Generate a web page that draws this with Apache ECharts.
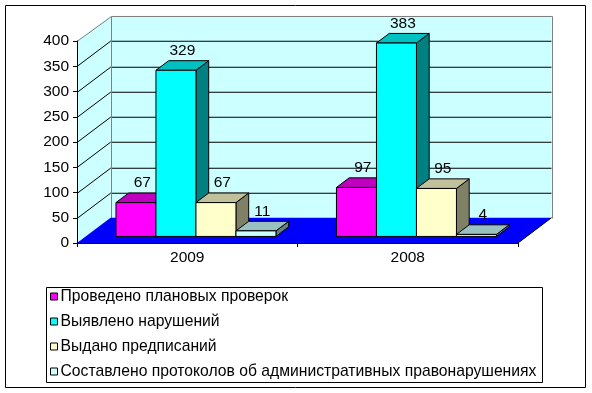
<!DOCTYPE html>
<html>
<head>
<meta charset="utf-8">
<script src="https://cdn.jsdelivr.net/npm/echarts@6/dist/echarts.min.js"></script>
<style>
html,body{margin:0;padding:0;background:#fff;}
#chart{width:592px;height:393px;}
</style>
</head>
<body>
<div id="chart"></div>
<script>
var categories = ['2009', '2008'];
var seriesNames = [
  'Проведено плановых проверок',
  'Выявлено нарушений',
  'Выдано предписаний',
  'Составлено протоколов об административных правонарушениях'
];
var planned = [67, 97];
var violations = [329, 383];
var orders = [67, 95];
var protocols = [11, 4];
var yTicks = [0, 50, 100, 150, 200, 250, 300, 350, 400];

var FONT = '"Liberation Sans", Arial, sans-serif';
var FS = 15.5;
var faceColors = [
  { front: '#FF00FF', top: '#C000C0', side: '#800080' },
  { front: '#00FFFF', top: '#00C0C0', side: '#008080' },
  { front: '#FFFFCC', top: '#C0C09A', side: '#808066' },
  { front: '#CCFFFF', top: '#99C0C0', side: '#668080' }
];
var allValues = [planned, violations, orders, protocols];

function depthVec(api) {
  var step = api.size([0, 50])[1];
  return [step * 1.327, -step];
}

function renderBackground(params, api) {
  var cs = params.coordSys;
  var D = depthVec(api);
  var x0 = cs.x, x1 = cs.x + cs.width;
  var yTop = api.coord([0, yTicks[yTicks.length - 1]])[1];
  var yBot = api.coord([0, yTicks[0]])[1];
  var children = [];
  children.push({type: 'polygon', shape: {points: [[x0, yTop], [x0 + D[0], yTop + D[1]], [x0 + D[0], yBot + D[1]], [x0, yBot]]},
    style: {fill: '#CCFFFF', stroke: null}});
  children.push({type: 'polygon', shape: {points: [[x0 + D[0], yTop + D[1]], [x1 + D[0], yTop + D[1]], [x1 + D[0], yBot + D[1]], [x0 + D[0], yBot + D[1]]]},
    style: {fill: '#CCFFFF', stroke: null}});
  for (var i = 1; i < yTicks.length - 1; i++) {
    var y = Math.round(api.coord([0, yTicks[i]])[1]) + 0.5;
    children.push({type: 'polyline', shape: {points: [[x0, y], [x0 + D[0], y + D[1]], [x1 + D[0], y + D[1]]]},
      style: {stroke: '#000', lineWidth: 1, fill: null}});
  }
  var bx = Math.round(x0 + D[0]) + 0.5, byT = Math.round(yTop + D[1]) + 0.5;
  var bxR = Math.round(x1 + D[0]) + 0.5, byB = Math.round(yBot + D[1]) + 0.5;
  children.push({type: 'polyline', shape: {points: [[x0, Math.round(yTop) + 0.5], [bx, byT], [bxR, byT], [bxR, byB]]},
    style: {stroke: '#808080', lineWidth: 1, fill: null}});
  children.push({type: 'line', shape: {x1: bx, y1: byT, x2: bx, y2: byB},
    style: {stroke: '#808080', lineWidth: 1}});
  children.push({type: 'polygon', shape: {points: [[x0, yBot], [x0 + D[0], yBot + D[1]], [x1 + D[0], yBot + D[1]], [x1, yBot]]},
    style: {fill: '#0000FF', stroke: null}});
  children.push({type: 'line', shape: {x1: x1, y1: yBot, x2: x1 + D[0], y2: yBot + D[1]},
    style: {stroke: '#000', lineWidth: 1}});
  return {type: 'group', children: children};
}

function makeBarRenderer(si) {
  return function (params, api) {
    var cat = api.value(0);
    var val = api.value(1);
    var D = depthVec(api);
    var band = api.size([1, 0])[0];
    var w = band * 0.1814;
    var f1 = 0.26, fd = 0.38;
    var c = api.coord([cat, 0]);
    var t = api.coord([cat, val]);
    var x0 = c[0] - 2 * w + si * w + f1 * D[0];
    var yb = c[1] + f1 * D[1];
    var yt = t[1] + f1 * D[1];
    var ddx = fd * D[0], ddy = fd * D[1];
    var col = faceColors[si];
    var st = {stroke: '#000', lineWidth: 1, lineJoin: 'round'};
    return {
      type: 'group',
      children: [
        {type: 'polygon', shape: {points: [[x0 + w, yt], [x0 + w + ddx, yt + ddy], [x0 + w + ddx, yb + ddy], [x0 + w, yb]]},
          style: Object.assign({fill: col.side}, st)},
        {type: 'polygon', shape: {points: [[x0, yt], [x0 + w, yt], [x0 + w + ddx, yt + ddy], [x0 + ddx, yt + ddy]]},
          style: Object.assign({fill: col.top}, st)},
        {type: 'rect', shape: {x: x0, y: yt, width: w, height: yb - yt},
          style: Object.assign({fill: col.front}, st)},
        {type: 'text', x: x0 + w / 2 + ddx / 2, y: yt + ddy - 10,
          style: {text: String(val), fill: '#000', font: FS + 'px ' + FONT, align: 'center', verticalAlign: 'middle'}}
      ]
    };
  };
}

var series = [{
  type: 'custom',
  name: '__bg',
  data: [[0, 0]],
  renderItem: renderBackground,
  clip: false,
  z: 1,
  silent: true
}];
for (var s = 0; s < 4; s++) {
  var data = [];
  for (var j = 0; j < categories.length; j++) data.push([j, allValues[s][j]]);
  series.push({
    type: 'custom',
    name: seriesNames[s],
    data: data,
    renderItem: makeBarRenderer(s),
    clip: false,
    z: 2 + s,
    itemStyle: {color: faceColors[s].front},
    encode: {x: 0, y: 1}
  });
}

var chart = echarts.init(document.getElementById('chart'), null, {renderer: 'canvas'});
chart.setOption({
  animation: false,
  backgroundColor: '#fff',
  grid: {left: 77, right: 74, top: 41, bottom: 150},
  xAxis: {
    type: 'category',
    data: categories,
    z: 10,
    axisLine: {lineStyle: {color: '#000', width: 1}},
    axisTick: {show: true, length: 4, lineStyle: {color: '#000'}},
    axisLabel: {fontSize: FS, color: '#000', fontFamily: FONT, margin: 7},
    splitLine: {show: false}
  },
  yAxis: {
    type: 'value',
    min: 0, max: 400, interval: 50,
    z: 10,
    axisLine: {show: true, lineStyle: {color: '#000', width: 1}},
    axisTick: {show: true, length: 4, lineStyle: {color: '#000'}},
    axisLabel: {fontSize: FS, color: '#000', fontFamily: FONT, margin: 8},
    splitLine: {show: false}
  },
  legend: {
    orient: 'vertical',
    left: 50, top: 288,
    padding: 0,
    itemWidth: 7, itemHeight: 7,
    itemGap: 8,
    icon: 'rect',
    itemStyle: {borderColor: '#000', borderWidth: 1},
    textStyle: {fontSize: 15.7, color: '#000', fontFamily: FONT, lineHeight: 17, padding: [0, 0, 0, -2]},
    data: seriesNames
  },
  graphic: [
    {type: 'rect', shape: {x: 5.5, y: 5.5, width: 580, height: 382}, style: {fill: null, stroke: '#000', lineWidth: 1}, z: 100},
    {type: 'rect', shape: {x: 46.5, y: 287.5, width: 496, height: 95}, style: {fill: null, stroke: '#000', lineWidth: 1}, z: 100}
  ],
  series: series
});
</script>
</body>
</html>
